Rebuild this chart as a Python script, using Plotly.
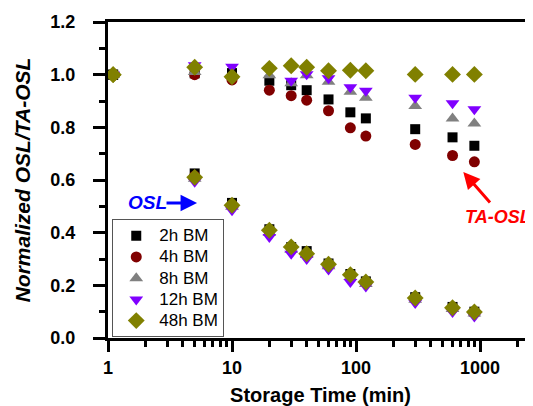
import plotly.graph_objects as go

# ---- data ----
time_min = [1.1, 5, 10, 20, 30, 40, 60, 90, 120, 300, 600, 900]

ta_osl_2h = [1.0, 1.005, 1.006, 0.977, 0.960, 0.941, 0.906, 0.857, 0.834, 0.793, 0.762, 0.730]
ta_osl_4h = [1.0, 1.000, 0.980, 0.941, 0.920, 0.903, 0.863, 0.798, 0.767, 0.735, 0.693, 0.669]
ta_osl_8h = [1.0, 1.010, 0.995, 0.998, 0.967, 0.998, 0.973, 0.935, 0.912, 0.881, 0.834, 0.815]
ta_osl_12h = [1.0, 1.036, 1.030, 1.017, 0.977, 1.002, 0.986, 0.952, 0.939, 0.912, 0.891, 0.869]
ta_osl_48h = [1.0, 1.028, 0.992, 1.024, 1.034, 1.028, 1.015, 1.017, 1.015, 1.001, 1.001, 1.001]

osl_2h = [1.0, 0.625, 0.513, 0.413, 0.345, 0.330, 0.283, 0.243, 0.215, 0.155, 0.118, 0.100]
osl_4h = [1.0, 0.615, 0.505, 0.405, 0.340, 0.320, 0.278, 0.235, 0.210, 0.150, 0.113, 0.097]
osl_8h = [1.0, 0.605, 0.498, 0.400, 0.335, 0.315, 0.272, 0.232, 0.205, 0.145, 0.110, 0.093]
osl_12h = [1.0, 0.593, 0.485, 0.384, 0.320, 0.300, 0.260, 0.213, 0.196, 0.133, 0.099, 0.082]
osl_48h = [1.0, 0.610, 0.504, 0.409, 0.346, 0.320, 0.280, 0.240, 0.213, 0.152, 0.115, 0.099]

series_names = ["2h BM", "4h BM", "8h BM", "12h BM", "48h BM"]
ta_series = [ta_osl_2h, ta_osl_4h, ta_osl_8h, ta_osl_12h, ta_osl_48h]
osl_series = [osl_2h, osl_4h, osl_8h, osl_12h, osl_48h]
colors = ["#000000", "#800000", "#808080", "#8000FF", "#808000"]
symbols = ["square", "circle", "triangle-up", "triangle-down", "diamond"]
sizes = [10, 11, 12, 12, 13]

x_ticks = [1, 10, 100, 1000]
x_minor = [m * d for d in (1, 10, 100, 1000) for m in range(2, 10)]

FONT = "Liberation Sans, Arial, sans-serif"

fig = go.Figure()
for name, ta, osl, c, s, sz in zip(series_names, ta_series, osl_series, colors, symbols, sizes):
    fig.add_trace(go.Scatter(
        x=time_min + time_min, y=ta + osl, mode="markers",
        name="<span style='font-size:17px'>" + name + "</span>",
        marker=dict(color=c, symbol=s, size=sz, line=dict(width=0)),
        cliponaxis=False,
    ))

axis_common = dict(showgrid=False, zeroline=False, showline=True, linecolor="black",
                   linewidth=3, ticks="outside", tickwidth=3, tickcolor="black", automargin=False)

fig.update_xaxes(
    type="log", range=[0, 3.427], tickvals=x_ticks, ticktext=[str(v) for v in x_ticks],
    ticklen=11, mirror=True,
    minor=dict(tickvals=x_minor, ticks="outside", ticklen=6, tickwidth=3, tickcolor="black"),
    tickfont=dict(family=FONT, size=18, color="black", weight="bold"),
    title=dict(text="Storage Time (min)", font=dict(family=FONT, size=20, color="black", weight="bold"), standoff=16),
    **axis_common,
)
fig.update_yaxes(
    range=[0, 1.2], dtick=0.2, tickformat=".1f", ticklen=12,
    minor=dict(dtick=0.1, ticks="outside", ticklen=6, tickwidth=3, tickcolor="black"),
    tickfont=dict(family=FONT, size=18, color="black", weight="bold"),
    ticklabelstandoff=14,
    title=dict(text="Normalized OSL/TA-OSL",
               font=dict(family=FONT, size=21, color="black", weight="bold", style="italic"), standoff=15),
    **axis_common,
)

fig.add_annotation(x=0.145, y=0.513, xref="x", yref="y", text="<b><i>OSL</i></b>", showarrow=False,
                   xanchor="left", yanchor="middle", font=dict(family=FONT, size=19, color="#0000FF"))
fig.add_annotation(x=0.718, y=0.513, xref="x", yref="y", text="", showarrow=True, ax=-32, ay=0,
                   arrowhead=2, arrowsize=1.1, arrowwidth=3, arrowcolor="#0000FF")
fig.add_annotation(x=2.862, y=0.458, xref="x", yref="y", text="<b><i>TA-OSL</i></b>", showarrow=False,
                   xanchor="left", yanchor="middle", font=dict(family=FONT, size=18, color="#FF0000"))
fig.add_annotation(x=2.865, y=0.630, xref="x", yref="y", text="", showarrow=True, ax=28, ay=32,
                   arrowhead=2, arrowsize=1.1, arrowwidth=3, arrowcolor="#FF0000")

# the page body adds an 8px offset, so the figure is sized/placed to compensate
fig.update_layout(
    width=525, height=398, autosize=False,
    margin=dict(l=100, r=0, t=14, b=68, pad=0),
    plot_bgcolor="white", paper_bgcolor="white",
    font=dict(family=FONT, color="black"),
    legend=dict(x=0.01, y=0.376, xanchor="left", yanchor="top",
                bordercolor="#555555", borderwidth=1, bgcolor="rgba(255,255,255,0)",
                font=dict(family=FONT, size=14, color="black"), itemsizing="trace",
                itemwidth=36, tracegroupgap=0),
    showlegend=True,
)

fig.write_html("out.html")
